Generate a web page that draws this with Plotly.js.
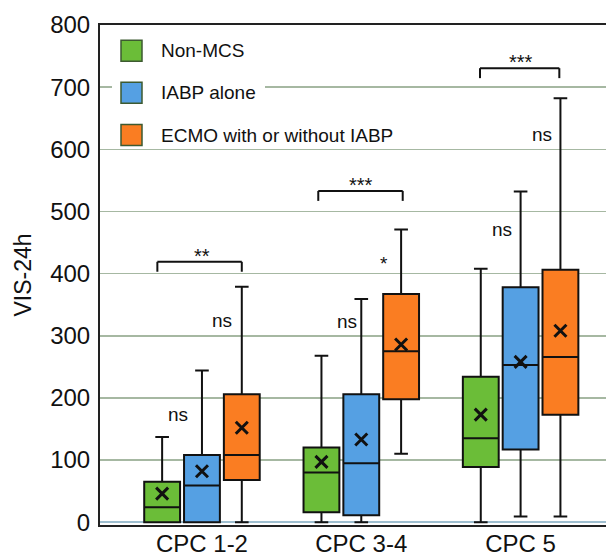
<!DOCTYPE html>
<html>
<head>
<meta charset="utf-8">
<script src="https://cdn.plot.ly/plotly-3.0.1.min.js"></script>
<style>html,body{margin:0;padding:0;background:#fff;}#chart{width:606px;height:557px;}</style>
</head>
<body>
<div id="chart"></div>
<script>
// ---- data ----
var categories = ['CPC 1-2', 'CPC 3-4', 'CPC 5'];
var groupNames = ['Non-MCS', 'IABP alone', 'ECMO with or without IABP'];

var nonMcsLower  = [0, 0, 0];
var nonMcsQ1     = [0, 16, 89];
var nonMcsMedian = [24, 80, 135];
var nonMcsQ3     = [65, 120, 234];
var nonMcsUpper  = [137, 268, 408];
var nonMcsMean   = [46, 97, 173];

var iabpLower  = [0, 0, 9];
var iabpQ1     = [0, 11, 117];
var iabpMedian = [59, 95, 253];
var iabpQ3     = [108, 206, 378];
var iabpUpper  = [244, 359, 532];
var iabpMean   = [82, 133, 258];

var ecmoLower  = [0, 110, 9];
var ecmoQ1     = [68, 198, 173];
var ecmoMedian = [108, 275, 266];
var ecmoQ3     = [206, 367, 406];
var ecmoUpper  = [379, 471, 682];
var ecmoMean   = [152, 286, 308];

var yTickValues = [0, 100, 200, 300, 400, 500, 600, 700, 800];
var sigLabels = ['**', '***', '***'];

// ---- styles / layout helpers ----
var FONT = 'Liberation Sans, Arial, Helvetica, sans-serif';
var colors = ['#6bbd38', '#55a0e3', '#fa7d22'];
var series = [
  {lower: nonMcsLower, q1: nonMcsQ1, med: nonMcsMedian, q3: nonMcsQ3, upper: nonMcsUpper, mean: nonMcsMean},
  {lower: iabpLower, q1: iabpQ1, med: iabpMedian, q3: iabpQ3, upper: iabpUpper, mean: iabpMean},
  {lower: ecmoLower, q1: ecmoQ1, med: ecmoMedian, q3: ecmoQ3, upper: ecmoUpper, mean: ecmoMean}
];

var traces = [];
series.forEach(function (s, i) {
  traces.push({
    type: 'box', name: groupNames[i], x: categories,
    lowerfence: s.lower, q1: s.q1, median: s.med, q3: s.q3, upperfence: s.upper,
    fillcolor: colors[i], line: {color: '#111', width: 2},
    whiskerwidth: 0.38, boxpoints: false, offsetgroup: 'g' + i,
    showlegend: false, hoverinfo: 'y'
  });
});
series.forEach(function (s, i) {
  traces.push({
    type: 'scatter', mode: 'markers', name: groupNames[i] + ' mean', x: categories, y: s.mean,
    offsetgroup: 'g' + i,
    marker: {symbol: 'x-thin', size: 12, color: '#111', line: {width: 3, color: '#111'}},
    showlegend: false, hoverinfo: 'y'
  });
});

// plot area pixel helpers (plot area: x 100..606, y 25..525)
function pxX(px) { return (px - 100) / 506; }
function pxY(py) { return (525 - py) / 500; }

var shapes = [];
// significance brackets (category index + offsets)
var brackets = [
  {c: 0, l: -0.28, r: 0.25, top: 419, low: 403},
  {c: 1, l: -0.27, r: 0.26, top: 533, low: 517},
  {c: 2, l: -0.255, r: 0.243, top: 730.5, low: 714.5}
];
brackets.forEach(function (b) {
  var ln = {color: '#111', width: 2};
  shapes.push({type: 'line', xref: 'x', yref: 'y', x0: b.c + b.l, x1: b.c + b.r, y0: b.top, y1: b.top, line: ln});
  shapes.push({type: 'line', xref: 'x', yref: 'y', x0: b.c + b.l, x1: b.c + b.l, y0: b.top, y1: b.low, line: ln});
  shapes.push({type: 'line', xref: 'x', yref: 'y', x0: b.c + b.r, x1: b.c + b.r, y0: b.top, y1: b.low, line: ln});
});

// legend background and swatches
shapes.push({type: 'rect', xref: 'paper', yref: 'paper', layer: 'above',
  x0: pxX(112), x1: pxX(265), y0: pxY(148), y1: pxY(33), fillcolor: '#fff', line: {width: 0}});
var legendRowsPx = [50.7, 92.7, 135];
var annotations = [];
legendRowsPx.forEach(function (cy, i) {
  shapes.push({type: 'rect', xref: 'paper', yref: 'paper', layer: 'above',
    x0: pxX(121), x1: pxX(142), y0: pxY(cy + 10.5), y1: pxY(cy - 10.5),
    fillcolor: colors[i], line: {color: '#3d5a30', width: 1.5}});
  annotations.push({xref: 'paper', yref: 'paper', x: pxX(159), y: pxY(cy), xanchor: 'left', yanchor: 'middle',
    text: groupNames[i], showarrow: false, font: {family: FONT, size: 19, color: '#111'}});
});

// significance text
var sigPos = [
  {x: 0, y: 428}, {x: 1, y: 543}, {x: 2, y: 741}
];
sigLabels.forEach(function (t, i) {
  annotations.push({xref: 'x', yref: 'y', x: sigPos[i].x, y: sigPos[i].y, text: t, showarrow: false,
    xanchor: 'center', yanchor: 'middle', font: {family: FONT, size: 20, color: '#111'}});
});
var notes = [
  {x: -0.151, y: 174, t: 'ns'}, {x: 0.126, y: 325, t: 'ns'},
  {x: 0.909, y: 323, t: 'ns'}, {x: 1.141, y: 417, t: '*'},
  {x: 1.884, y: 471, t: 'ns'}, {x: 2.135, y: 624, t: 'ns'}
];
notes.forEach(function (n) {
  annotations.push({xref: 'x', yref: 'y', x: n.x, y: n.y, text: n.t, showarrow: false,
    xanchor: 'center', yanchor: 'middle', font: {family: FONT, size: 19, color: '#111'}});
});

var layout = {
  width: 606, height: 557,
  margin: {l: 100, r: 0, t: 25, b: 32, pad: 0},
  paper_bgcolor: '#fff', plot_bgcolor: '#fff',
  font: {family: FONT, color: '#111'},
  showlegend: false,
  boxmode: 'group', boxgap: 0.25, boxgroupgap: 0.1,
  scattermode: 'group', scattergap: 0.25,
  xaxis: {
    type: 'category', categoryorder: 'array', categoryarray: categories,
    range: [-0.64, 2.536], fixedrange: true,
    showline: true, linecolor: '#222', linewidth: 2, mirror: true,
    showgrid: false, zeroline: false, ticks: '', ticklabelstandoff: -4,
    tickfont: {family: FONT, size: 24, color: '#111'}
  },
  yaxis: {
    range: [-4.5, 800], tickvals: yTickValues, fixedrange: true,
    showline: true, linecolor: '#222', linewidth: 2,
    showgrid: true, gridcolor: '#a6b8a2', gridwidth: 1.5,
    zeroline: true, zerolinecolor: '#9fbfd0', zerolinewidth: 1.5,
    ticks: '', ticklabelstandoff: 3,
    tickfont: {family: FONT, size: 24, color: '#111'},
    title: {text: 'VIS-24h', standoff: 12, font: {family: FONT, size: 23, color: '#111'}}
  },
  shapes: shapes,
  annotations: annotations
};

Plotly.newPlot('chart', traces, layout, {displayModeBar: false, staticPlot: true});
</script>
</body>
</html>
